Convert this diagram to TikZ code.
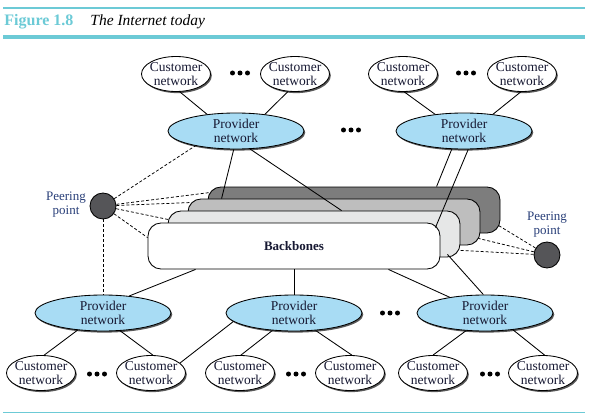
\documentclass[tikz,border=0pt]{standalone}
\usepackage{fontspec}
\setmainfont{Liberation Serif}
\usetikzlibrary{shapes.geometric,shadows}

\definecolor{navytext}{RGB}{22,24,50}
\definecolor{peertext}{RGB}{40,62,120}
\definecolor{provfill}{RGB}{168,220,244}
\definecolor{headcyan}{RGB}{108,202,214}
\definecolor{bbdark}{RGB}{125,125,125}
\definecolor{bbmid}{RGB}{190,190,190}
\definecolor{bblight}{RGB}{230,231,231}
\definecolor{peerfill}{RGB}{85,85,88}

% three dots centred at (#1,#2)
\newcommand{\threedots}[2]{\foreach \i in {-1,0,1} {\fill (#1+7.5*\i,#2) circle (2.5pt);}}

\begin{document}
\begin{tikzpicture}[x=1pt, y=-1pt, line width=0.85pt,
    netfont/.style={font=\fontsize{13.5}{14.5}\selectfont, text=navytext, align=center},
    cust/.style={ellipse, draw, fill=white, netfont, inner xsep=-2pt, inner ysep=0pt, minimum width=69pt, minimum height=35pt,
      drop shadow={shadow xshift=1.3pt, shadow yshift=-1.6pt, fill=black!65, opacity=1}},
    prov/.style={cust, fill=provfill, minimum width=136pt, minimum height=36pt},
    layer/.style={rectangle, draw, rounded corners=13pt, minimum width=292pt, minimum height=46pt, inner sep=0pt},
    peer/.style={circle, draw, fill=peerfill, minimum size=26pt, inner sep=0pt},
    peerlab/.style={font=\fontsize{13}{14}\selectfont, text=peertext, align=center},
    peerlink/.style={dashed, dash pattern=on 3pt off 2pt, line width=0.75pt}]
    \useasboundingbox (0,0) rectangle (597,417);

    % --- header ---
    \draw[headcyan, line width=1.3pt] (3,8) -- (585,8);
    \draw[headcyan, line width=3.6pt] (3,37) -- (585,37);
    \draw[headcyan, line width=1pt] (3,412.5) -- (585,412.5);
    \node[anchor=base west, inner sep=0pt, text=headcyan, font=\fontsize{16}{17}\selectfont\bfseries] (fig) at (4,26) {Figure 1.8};
    \node[anchor=base west, inner sep=0pt, text=black, font=\fontsize{15.5}{17}\selectfont\itshape] (title) at (90,26) {The Internet today};

    % --- backbones (back to front) ---
    \node[layer, fill=bbdark] (bbA) at (354,210) {};
    \node[layer, fill=bbmid] (bbB) at (334,222) {};
    \node[layer, fill=bblight] (bbC) at (314,234) {};
    \node[layer, fill=white, font=\fontsize{13}{14}\selectfont\bfseries, text=navytext] (bb) at (294,246) {Backbones};

    % --- top ---
    \node[cust] (C1) at (176,74) {Customer\\network};
    \node[cust] (C2) at (295,74) {Customer\\network};
    \node[cust] (C3) at (403,74) {Customer\\network};
    \node[cust] (C4) at (522,74) {Customer\\network};
    \node[prov] (P1) at (236,131) {Provider\\network};
    \node[prov] (P2) at (464,131) {Provider\\network};
    \threedots{240}{73}
    \threedots{466}{73}
    \threedots{351}{130}

    \draw (C1.-78) -- (P1.150);
    \draw (C2.-112) -- (P1.30);
    \draw (C3.-86) -- (P2.150);
    \draw (C4.-94) -- (P2.30);

    % --- bottom ---
    \node[prov] (Q1) at (103,313) {Provider\\network};
    \node[prov] (Q2) at (294,313) {Provider\\network};
    \node[prov] (Q3) at (485,313) {Provider\\network};
    \node[cust] (D1) at (41,373) {Customer\\network};
    \node[cust] (D2) at (151,373) {Customer\\network};
    \node[cust] (D3) at (240,373) {Customer\\network};
    \node[cust] (D4) at (350,373) {Customer\\network};
    \node[cust] (D5) at (433,373) {Customer\\network};
    \node[cust] (D6) at (543,373) {Customer\\network};
    \threedots{97}{374}
    \threedots{296}{374}
    \threedots{490}{374}
    \threedots{390}{313}

    \draw (Q1.214) -- (D1.80);
    \draw (Q1.-46) -- (D2.84);
    \draw (Q2.188) -- (D2.19);
    \draw (Q2.219) -- (D3.87);
    \draw (Q2.-39) -- (D4.84);
    \draw (Q3.223) -- (D5.90);
    \draw (Q3.-31) -- (D6.85);

    % --- provider to backbone links ---
    \draw (P1.-97) -- ([xshift=34pt]bbB.north west);
    \draw (P1.-52) -- ([xshift=174pt]bbC.north west);
    \draw (P2.-124) -- ([xshift=229pt]bbA.north west);
    \draw (P2.-77) -- ([xshift=-5pt,yshift=-5pt]bb.north east);
    \draw ([xshift=48pt]bb.south west) -- (Q1.33);
    \draw (bb.south) -- (Q2.north);
    \draw ([xshift=-52pt]bb.south east) -- (Q3.156);
    \draw ([xshift=-13pt,yshift=3pt]bbC.south east) -- (Q3.95);

    % --- peering points ---
    \node[peer] (pL) at (103,206) {};
    \node[peerlab] (pLlab) at (66,205) {Peering\\point};
    \node[peer] (pR) at (547,255) {};
    \node[peerlab] (pRlab) at (547,225) {Peering\\point};

    \draw[peerlink] (pL) -- (P1.200);
    \draw[peerlink] (pL) -- ([xshift=2pt,yshift=-6pt]bbA.north west);
    \draw[peerlink] (pL) -- ([xshift=2pt,yshift=-4pt]bbB.north west);
    \draw[peerlink] (pL) -- ([xshift=1pt,yshift=-9pt]bbC.north west);
    \draw[peerlink] (pL) -- ([yshift=-15pt]bb.north west);
    \draw[peerlink] (pL) -- (Q1.north);
    \draw[peerlink] (pR) -- ([xshift=-2pt,yshift=8pt]bbA.south east);
    \draw[peerlink] (pR) -- ([xshift=-2pt,yshift=7pt]bbB.south east);
    \draw[peerlink] (pR) -- ([yshift=7pt]bbC.south east);
\end{tikzpicture}
\end{document}
